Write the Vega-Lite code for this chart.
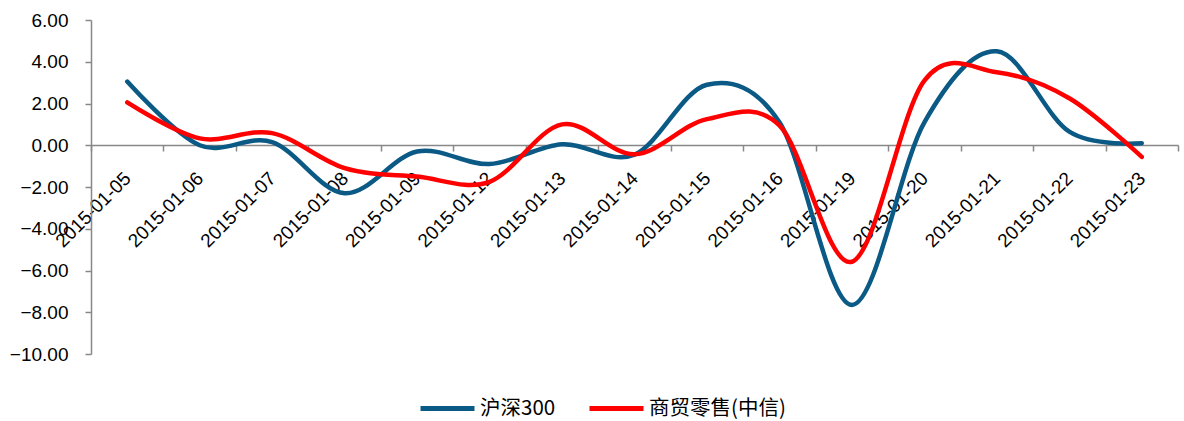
{
  "$schema": "https://vega.github.io/schema/vega-lite/v6.json",
  "width": 1087,
  "height": 334,
  "autosize": {"type": "none"},
  "padding": {"left": 91, "top": 20, "right": 6, "bottom": 67},
  "background": "white",
  "config": {"view": {"stroke": null}},
  "data": {
    "values": [
      {"date": "2015-01-05", "series": "沪深300", "value": 3.05},
      {"date": "2015-01-06", "series": "沪深300", "value": 0.0},
      {"date": "2015-01-07", "series": "沪深300", "value": 0.15},
      {"date": "2015-01-08", "series": "沪深300", "value": -2.3},
      {"date": "2015-01-09", "series": "沪深300", "value": -0.3},
      {"date": "2015-01-12", "series": "沪深300", "value": -0.9},
      {"date": "2015-01-13", "series": "沪深300", "value": 0.05},
      {"date": "2015-01-14", "series": "沪深300", "value": -0.45},
      {"date": "2015-01-15", "series": "沪深300", "value": 2.9},
      {"date": "2015-01-16", "series": "沪深300", "value": 1.1},
      {"date": "2015-01-19", "series": "沪深300", "value": -7.65},
      {"date": "2015-01-20", "series": "沪深300", "value": 1.1},
      {"date": "2015-01-21", "series": "沪深300", "value": 4.5},
      {"date": "2015-01-22", "series": "沪深300", "value": 0.65},
      {"date": "2015-01-23", "series": "沪深300", "value": 0.1},
      {"date": "2015-01-05", "series": "商贸零售(中信)", "value": 2.05},
      {"date": "2015-01-06", "series": "商贸零售(中信)", "value": 0.33},
      {"date": "2015-01-07", "series": "商贸零售(中信)", "value": 0.58},
      {"date": "2015-01-08", "series": "商贸零售(中信)", "value": -1.1},
      {"date": "2015-01-09", "series": "商贸零售(中信)", "value": -1.5},
      {"date": "2015-01-12", "series": "商贸零售(中信)", "value": -1.75},
      {"date": "2015-01-13", "series": "商贸零售(中信)", "value": 1.0},
      {"date": "2015-01-14", "series": "商贸零售(中信)", "value": -0.43},
      {"date": "2015-01-15", "series": "商贸零售(中信)", "value": 1.25},
      {"date": "2015-01-16", "series": "商贸零售(中信)", "value": 0.95},
      {"date": "2015-01-19", "series": "商贸零售(中信)", "value": -5.58},
      {"date": "2015-01-20", "series": "商贸零售(中信)", "value": 3.1},
      {"date": "2015-01-21", "series": "商贸零售(中信)", "value": 3.5},
      {"date": "2015-01-22", "series": "商贸零售(中信)", "value": 2.25},
      {"date": "2015-01-23", "series": "商贸零售(中信)", "value": -0.56}
    ]
  },
  "mark": {"type": "line", "interpolate": "cardinal", "tension": 0, "strokeWidth": 4.5, "strokeCap": "round"},
  "encoding": {
    "x": {
      "field": "date",
      "type": "ordinal",
      "sort": null,
      "bandPosition": 0.5,
      "scale": {"type": "band", "paddingInner": 0, "paddingOuter": 0},
      "axis": {
        "title": null,
        "offset": -209,
        "tickBand": "extent",
        "labelAngle": -45,
        "labelAlign": "right",
        "labelBaseline": "middle",
        "labelPadding": 24,
        "labelFont": "Liberation Sans",
        "labelFontSize": 19,
        "labelColor": "#000000",
        "labelOverlap": false,
        "labelBound": false,
        "labelFlush": false,
        "domainColor": "#888888",
        "domainWidth": 1.5,
        "tickColor": "#888888",
        "tickWidth": 1.5,
        "tickSize": 6,
        "grid": false
      }
    },
    "y": {
      "field": "value",
      "type": "quantitative",
      "scale": {"domain": [-10, 6], "nice": false, "zero": false},
      "axis": {
        "title": null,
        "values": [-10, -8, -6, -4, -2, 0, 2, 4, 6],
        "format": ".2f",
        "labelFont": "Liberation Sans",
        "labelFontSize": 19,
        "labelColor": "#000000",
        "labelPadding": 17,
        "labelOverlap": false,
        "labelBound": false,
        "labelFlush": false,
        "domainColor": "#888888",
        "domainWidth": 1.5,
        "tickColor": "#888888",
        "tickWidth": 1.5,
        "tickSize": 6,
        "grid": false
      }
    },
    "color": {
      "field": "series",
      "type": "nominal",
      "scale": {"domain": ["沪深300", "商贸零售(中信)"], "range": ["#0B5A86", "#FF0000"]},
      "legend": {
        "title": null,
        "orient": "none",
        "legendX": 327,
        "legendY": 359,
        "direction": "horizontal",
        "symbolType": "stroke",
        "symbolSize": 2916,
        "symbolStrokeWidth": 5,
        "labelFont": "Noto Sans CJK SC",
        "labelFontSize": 20.5,
        "labelColor": "#000000",
        "labelOffset": 3,
        "columnPadding": 23,
        "labelLimit": 300
      }
    }
  }
}
